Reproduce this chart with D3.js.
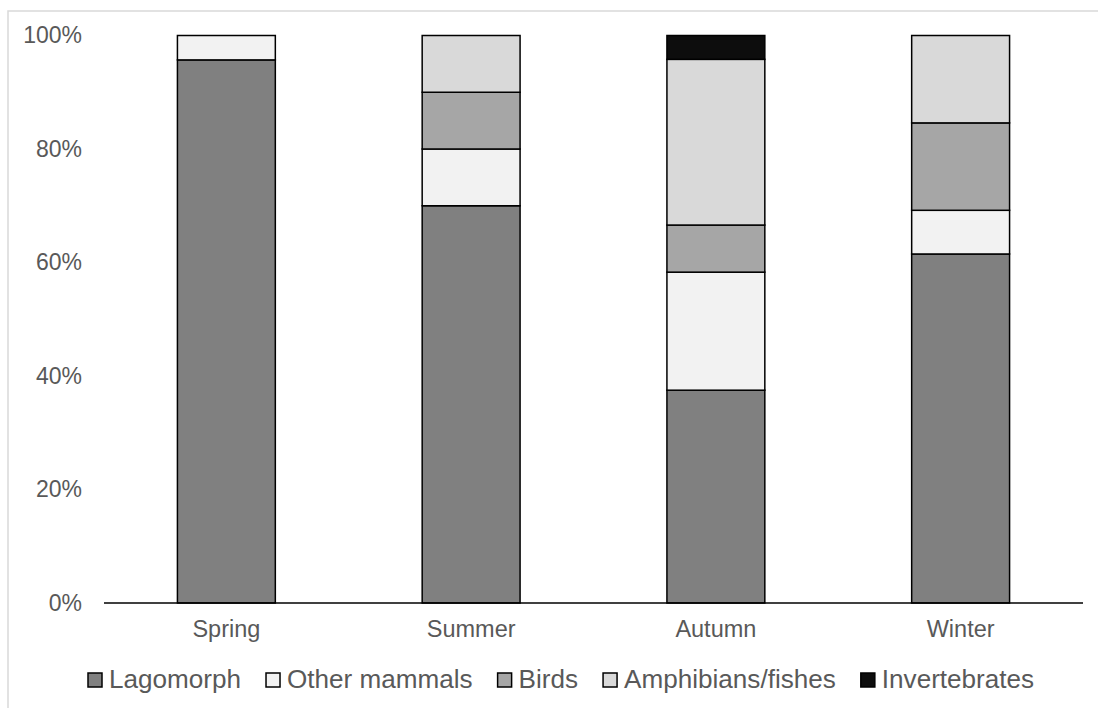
<!DOCTYPE html>
<html>
<head>
<meta charset="utf-8">
<script src="https://cdn.jsdelivr.net/npm/d3@7"></script>
<style>
  html, body { margin: 0; padding: 0; background: #fff; }
  svg { display: block; }
  text { font-family: "Liberation Sans", Arial, sans-serif; fill: #595959; }
</style>
</head>
<body>
<svg id="chart" width="1098" height="708"></svg>
<script>
// Diet composition (%) by season
const seasons = ["Spring", "Summer", "Autumn", "Winter"];
const lagomorph     = [95.7, 70.0, 37.5, 61.5];
const otherMammals  = [4.3, 10.0, 20.8, 7.7];
const birds         = [0.0, 10.0, 8.3, 15.4];
const amphibians    = [0.0, 10.0, 29.2, 15.4];
const invertebrates = [0.0, 0.0, 4.2, 0.0];
const yTicks = [0, 20, 40, 60, 80, 100];

const seriesNames = ["Lagomorph", "Other mammals", "Birds", "Amphibians/fishes", "Invertebrates"];
const seriesValues = [lagomorph, otherMammals, birds, amphibians, invertebrates];
const colors = ["#808080", "#f2f2f2", "#a6a6a6", "#d9d9d9", "#0d0d0d"];

const rows = seasons.map((s, i) => {
  const r = { season: s };
  seriesNames.forEach((n, k) => { r[n] = seriesValues[k][i]; });
  return r;
});

const svg = d3.select("#chart");

// outer chart frame
svg.append("rect")
  .attr("x", 8).attr("y", 11)
  .attr("width", 1300).attr("height", 900)
  .attr("fill", "none")
  .attr("stroke", "#d9d9d9")
  .attr("stroke-width", 1.5);

const plotLeft = 104, plotRight = 1083, plotTop = 35.5, plotBottom = 603;

const x = d3.scaleBand()
  .domain(seasons)
  .range([plotLeft, plotRight])
  .paddingInner(0.6)
  .paddingOuter(0.3);

const y = d3.scaleLinear()
  .domain([0, 100])
  .range([plotBottom, plotTop]);

const stacked = d3.stack().keys(seriesNames)(rows);

svg.append("g")
  .selectAll("g")
  .data(stacked)
  .join("g")
  .attr("fill", (d, i) => colors[i])
  .selectAll("rect")
  .data(d => d.filter(p => p[1] - p[0] > 0))
  .join("rect")
  .attr("x", d => x(d.data.season))
  .attr("width", x.bandwidth())
  .attr("y", d => y(d[1]))
  .attr("height", d => y(d[0]) - y(d[1]))
  .attr("stroke", "#000")
  .attr("stroke-width", 1.5);

// y axis labels
const yAxis = svg.append("g")
  .attr("transform", `translate(${plotLeft - 22},0)`)
  .call(d3.axisLeft(y).tickValues(yTicks).tickFormat(d => d + "%").tickSize(0).tickPadding(0));
yAxis.select(".domain").remove();
yAxis.selectAll("text")
  .attr("font-size", "23px")
  .attr("fill", "#595959")
  .style("font-family", "'Liberation Sans', Arial, sans-serif");

// x axis baseline and labels
const xAxis = svg.append("g")
  .attr("transform", `translate(0,${plotBottom})`)
  .call(d3.axisBottom(x).tickSize(0).tickPadding(17));
xAxis.select(".domain")
  .attr("d", `M${plotLeft},0H${plotRight}`)
  .attr("stroke", "#000")
  .attr("stroke-width", 1.5);
xAxis.selectAll("text")
  .attr("font-size", "23.5px")
  .attr("fill", "#595959")
  .style("font-family", "'Liberation Sans', Arial, sans-serif");

// legend
const legend = svg.append("g");
let lx = 88;
seriesNames.forEach((name, i) => {
  const g = legend.append("g");
  g.append("rect")
    .attr("x", lx).attr("y", 673)
    .attr("width", 14).attr("height", 14)
    .attr("fill", colors[i])
    .attr("stroke", "#000")
    .attr("stroke-width", 1.5);
  const t = g.append("text")
    .attr("x", lx + 21)
    .attr("y", 688)
    .attr("font-size", "26.1px")
    .text(name);
  lx += 21 + t.node().getComputedTextLength() + 25;
});
</script>
</body>
</html>
